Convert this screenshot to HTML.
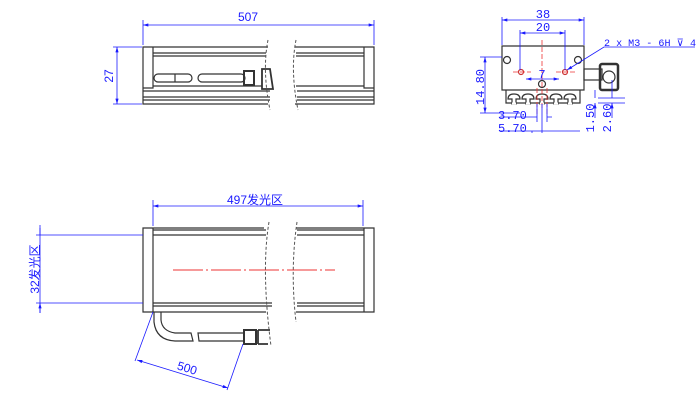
<!DOCTYPE html>
<html><head><meta charset="utf-8"><style>
html,body{margin:0;padding:0;background:#fff;width:700px;height:400px;overflow:hidden}
svg{display:block}
text{font-family:"Liberation Sans","Noto Sans CJK SC",sans-serif;fill:#1a1aff}
.m{font-family:"Liberation Mono","Noto Sans CJK SC",monospace}
</style></head><body>
<svg width="700" height="400" viewBox="0 0 700 400" xmlns="http://www.w3.org/2000/svg">
<defs>
<marker id="a" viewBox="0 0 10 6" refX="10" refY="3" markerWidth="8" markerHeight="4" orient="auto-start-reverse"><path d="M0,0L10,3L0,6z" fill="#1a1aff"/></marker>
</defs>
<g stroke="#333" stroke-width="1.2" fill="none">
<!-- TOP VIEW -->
<path d="M268,47H143V104H268 M295,47H374V104H295"/>
<path d="M153,47V88H143 M364,47V88H374"/>
<path d="M153,53H266 M153,56H266 M296,53H364 M296,56H364"/>
<path d="M153,86H262 M296,86H364 M143,91H270 M297,91H374 M143,97H270 M297,97H374 M143,100H270 M297,100H374"/>
<rect x="154" y="74" width="38" height="8" rx="4"/>
<path d="M175,74V82"/>
<rect x="198" y="74" width="47" height="8" rx="4"/>
<rect x="244" y="71" width="10" height="14" stroke-width="2"/>
<path d="M262,69H270L273,89H262Z" stroke-width="1.8"/>
</g>
<path d="M268,40Q262,70 270,110 M296,40Q290,70 298,110" stroke="#555" stroke-dasharray="3,2" fill="none"/>
<g stroke="#1a1aff" stroke-width="0.8" fill="none">
<path d="M143,20V45 M374,20V45 M113,47H142 M113,104H142"/>
<path d="M143,25H374" marker-start="url(#a)" marker-end="url(#a)"/>
<path d="M117,47V104" marker-start="url(#a)" marker-end="url(#a)"/>
</g>
<text x="248" y="21" font-size="12" text-anchor="middle">507</text>
<text x="0" y="0" font-size="12" text-anchor="middle" transform="translate(113,76) rotate(-90)">27</text>

<!-- RIGHT VIEW -->
<g stroke="#333" stroke-width="1.2" fill="none">
<path d="M502,46H584V90H580V103H506V90H502Z M506,90H580"/>
<rect x="584" y="69" width="18" height="11"/>
<rect x="600" y="64" width="18" height="26" rx="2" stroke-width="2.5"/>
<circle cx="609" cy="77" r="6"/>
<circle cx="507" cy="60" r="3.5"/><circle cx="578" cy="60" r="3.5"/><circle cx="542" cy="84" r="3.5"/>
<circle cx="521" cy="72" r="2.5" stroke="#c33"/><circle cx="565" cy="72" r="2.5" stroke="#c33"/>
</g>
<g stroke="#333" stroke-width="1.2" fill="#fff">
<path d="M512,104V99H508Q508,94 514,94Q520,94 520,99H516V104Z"/>
<path d="M526,104V99H522Q522,94 528,94Q534,94 534,99H530V104Z"/>
<path d="M540,104V99H536Q536,94 542,94Q548,94 548,99H544V104Z"/>
<path d="M554,104V99H550Q550,94 556,94Q562,94 562,99H558V104Z"/>
<path d="M568,104V99H564Q564,94 570,94Q576,94 576,99H572V104Z"/>
</g>
<path d="M512,103.5H516M526,103.5H530M540,103.5H544M554,103.5H558M568,103.5H572" stroke="#fff" stroke-width="2"/>
<path d="M542,40V110 M537,88V115 M547,88V115 M513,72H531 M556,72H575" stroke="#e33" stroke-width="0.8" stroke-dasharray="5,2" fill="none"/>
<g stroke="#1a1aff" stroke-width="0.8" fill="none">
<path d="M502,17V45 M584,17V45 M520,30V70 M565,30V70 M480,57H502 M480,113H520 M598,98H625 M598,103H625"/>
<path d="M502,20H584" marker-start="url(#a)" marker-end="url(#a)"/>
<path d="M520,33H565" marker-start="url(#a)" marker-end="url(#a)"/>
<path d="M526,79H559" marker-start="url(#a)" marker-end="url(#a)"/>
<path d="M485,57V113" marker-start="url(#a)" marker-end="url(#a)"/>
<path d="M695,47H604L567,70" marker-end="url(#a)"/>
<path d="M500,117H530 M537,104V122 M542,104V133 M547,104V122 M500,131H580 M532,131V133"/>
<path d="M530,117H537 M552,117H547"/>
<path d="M595,90V98 M595,118V103" marker-end="url(#a)"/>
<path d="M612,80V98 M612,118V103" marker-end="url(#a)"/>
</g>
<text x="543" y="18" font-size="12" text-anchor="middle" class="m">38</text>
<text x="543" y="31" font-size="12" text-anchor="middle" class="m">20</text>
<text x="542" y="78" font-size="12" text-anchor="middle" class="m">7</text>
<text x="604" y="46" font-size="10" class="m" textLength="92" lengthAdjust="spacingAndGlyphs">2 x M3 - 6H ⊽ 4</text>
<text x="0" y="0" font-size="12" text-anchor="middle" class="m" transform="translate(484,87) rotate(-90)">14.80</text>
<text x="498" y="119" font-size="12" class="m">3.70</text>
<text x="498" y="132" font-size="12" class="m">5.70</text>
<text x="0" y="0" font-size="12" text-anchor="middle" class="m" transform="translate(594,118) rotate(-90)">1.50</text>
<text x="0" y="0" font-size="12" text-anchor="middle" class="m" transform="translate(611,118) rotate(-90)">2.60</text>

<!-- BOTTOM VIEW -->
<g stroke="#333" stroke-width="1.2" fill="none">
<path d="M264,228H143V312H266 M296,228H374V312H296"/>
<path d="M153,228V312 M364,228V312"/>
<path d="M153,230H266 M153,235H266 M297,230H364 M297,235H364 M153,303H272 M297,303H364 M153,306H272 M297,306H364"/>
<path d="M154,312V322Q156,340 175,341H193L191,333H175Q162,331 161,320V312"/>
<path d="M198,333H244V341H199Z"/>
<rect x="244" y="330" width="12" height="14" stroke-width="2"/>
<path d="M258,330H270M258,344H268M258,330V344" stroke-width="1.8"/>
</g>
<path d="M269,222Q261,270 271,346 M297,222Q290,270 296,322" stroke="#555" stroke-dasharray="3,2" fill="none"/>
<path d="M173,270H335" stroke="#e33" stroke-width="0.9" stroke-dasharray="30,3,2,3" fill="none"/>
<g stroke="#1a1aff" stroke-width="0.8" fill="none">
<path d="M153,200V226 M363,200V226 M36,235H143 M36,303H143"/>
<path d="M153,206H363" marker-start="url(#a)" marker-end="url(#a)"/>
<path d="M40,225V313" />
<path d="M40,228V235 M40,313V303" marker-end="url(#a)"/>
<path d="M153,312L135,361 M243,344L227,390"/>
<path d="M137,360L228,388" marker-start="url(#a)" marker-end="url(#a)"/>
</g>
<text x="255" y="204" font-size="12" text-anchor="middle">497发光区</text>
<text x="0" y="0" font-size="12" text-anchor="middle" transform="translate(39,269) rotate(-90)">32发光区</text>
<text x="0" y="0" font-size="12" text-anchor="middle" transform="translate(186,372) rotate(17)">500</text>
</svg>
</body></html>
